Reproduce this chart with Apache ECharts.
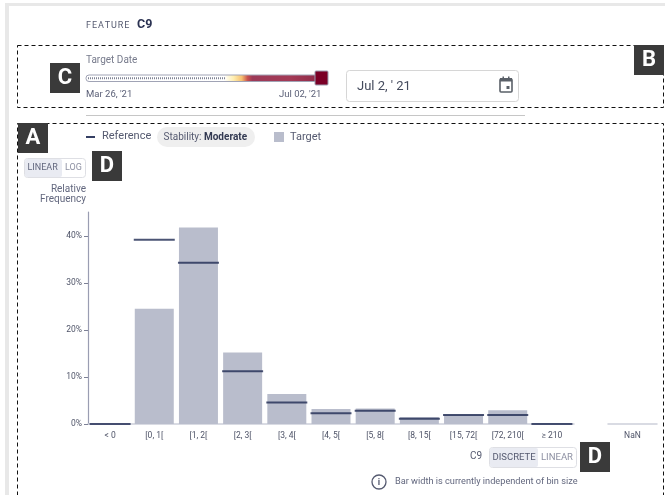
<!DOCTYPE html>
<html><head><meta charset="utf-8">
<style>html,body{margin:0;padding:0;background:#fff}#c{width:665px;height:495px}</style>
<script src="https://cdn.jsdelivr.net/npm/echarts@6/dist/echarts.min.js"></script>
</head><body><div id="c"></div>
<script>
const categories = ['< 0','[0, 1[','[1, 2[','[2, 3[','[3, 4[','[4, 5[','[5, 8[','[8, 15[','[15, 72[','[72, 210[','≥ 210'];
const targetValues = [0,24.5,41.8,15.2,6.4,3.2,3.3,1.5,2.0,2.9,0.1];
const referenceValues = [0,39.2,34.3,11.2,4.6,2.3,2.8,1.1,1.9,1.9,0];
const nanCategories = ['NaN'];
const nanTarget = [0];
const yTicks = [0,10,20,30,40];

const FONT='Roboto';
const TXT='#4f5468', DARK='#2b3252', BAR='#b9bdcc', REF='#1f2a52';
const chart = echarts.init(document.getElementById('c'),null,{renderer:'canvas'});
const t=(x,y,text,size,fill,extra)=>({type:'text',x,y,silent:true,z:20,style:Object.assign({text,font:`${size}px ${FONT}`,fill,verticalAlign:'middle'},extra||{})});
const r=(x,y,w,h,fill,extra)=>({type:'rect',silent:true,z:(extra&&extra.z)||10,shape:{x,y,width:w,height:h,r:(extra&&extra.r)||0},style:{fill,stroke:(extra&&extra.stroke)||null,lineWidth:(extra&&extra.lw)||1,lineDash:(extra&&extra.dash)||null}});
const badge=(x,y,l)=>[r(x,y,30,30,'#3a3a3a',{z:30}),Object.assign(t(x+15,y+15.5,l,22,'#fff',{align:'center',font:`700 22px Roboto`}),{z:31})];
const seg=(x1,y1,x2,y2,c,w,dash)=>({type:'line',silent:true,z:12,shape:{x1,y1,x2,y2},style:{stroke:c,lineWidth:w,lineDash:dash||null}});

const graphic=[
 r(5,3,660,3,'#e8e8e8'), r(5,3,4,492,'#e8e8e8'),
 t(86,25.5,'F\u200aE\u200aA\u200aT\u200aU\u200aR\u200aE',9,'#555a70'),
 t(137,24.5,'C9',12.5,DARK,{font:`700 12.5px ${FONT}`}),
 r(17.5,45.5,646,62,'none',{stroke:'#111',dash:[4,3]}),
 r(17.5,123.5,646,380,'none',{stroke:'#111',dash:[4,3]}),
 t(86,60,'Target Date',10,'#777b8c'),
 {type:'rect',silent:true,z:10,shape:{x:86,y:75,width:234,height:6.5,r:3},style:{stroke:'#a0a3b5',lineWidth:1,fill:new echarts.graphic.LinearGradient(0,0,1,0,[
   {offset:0,color:'#ffffff'},{offset:.59,color:'#ffffff'},{offset:.63,color:'#ffeeb0'},{offset:.665,color:'#f6c070'},{offset:.69,color:'#c8504e'},{offset:.71,color:'#9c3a58'},{offset:.87,color:'#a43a56'},{offset:1,color:'#8f2a48'}])}},
 seg(88,78.2,226,78.2,'#7f8294',2,[1,1]),
 r(315,71,13,14,'#7a0026',{stroke:'#9b9eb0',r:1,z:13}),
 t(86,95,'Mar 26, \'21',9.5,'#5c6178'),
 t(279,95,'Jul 02, \'21',9.5,'#5c6178'),
 r(346.5,70.5,172,31,'#fff',{stroke:'#d6d6d6',r:3}),
 t(357,86.5,"Jul 2, ' 21",13,'#444a5c'),
 r(500,79,12,13,'none',{stroke:'#5a6068',lw:1.6,r:1,z:13}), r(500,78,12,3.5,'#5a6068',{z:13}),
 r(502.5,76.5,1.5,3,'#5a6068',{z:13}), r(508,76.5,1.5,3,'#5a6068',{z:13}), r(506.5,86,3,3,'#5a6068',{z:13}),
 seg(86,115.5,525,115.5,'#c6c6c6',1),
 seg(86,137,95,137,REF,1.8),
 t(102,136.5,'Reference',11,'#555a70'),
 r(157,127,98,20,'#efefef',{r:10}),
 t(163.5,137,'{a|Stability: }{b|Moderate}',10,'#555a70',{rich:{a:{font:`10px ${FONT}`,fill:'#555a70'},b:{font:`700 10px ${FONT}`,fill:'#333a52'}}}),
 r(274,132,10,10,BAR),
 t(290,137,'Target',11,'#555a70'),
 r(24.5,158.5,61,19,'#fff',{stroke:'#dedfe4',r:3}),
 r(25,159,37,18,'#e9ebf2',{r:2}),
 t(27.5,168,'LINEAR',9,'#62677e'), t(65,168,'LOG',9,'#8d90a2'),
 t(86,189.5,'Relative',10,'#62677e',{align:'right'}),
 t(86,199.5,'Frequency',10,'#62677e',{align:'right'}),
 t(470,456.5,'C9',10,'#555a70'),
 r(489.5,447.5,87,20,'#fff',{stroke:'#dedfe4',r:3}),
 r(490,448,48,19,'#e9ebf2',{r:2}),
 t(492.5,457.5,'DISCRETE',9.5,'#555a70'), t(541,457.5,'LINEAR',9.5,'#8d90a2'),
 {type:'circle',silent:true,z:12,shape:{cx:379,cy:482,r:7},style:{fill:'none',stroke:'#555a70',lineWidth:1.3}},
 t(379,482.5,'i',9,'#555a70',{align:'center',font:`700 9px ${FONT}`}),
 t(395,482,'Bar width is currently independent of bin size',9.2,'#62677e'),
 ...badge(50,63,'C'),...badge(634,45,'B'),...badge(18,123,'A'),...badge(92,151,'D'),...badge(580,442,'D')
];
const xa=(gi,data)=>({type:'category',gridIndex:gi,data,
 axisLine:{lineStyle:{color:'#cdd0da',width:1.5}},axisTick:{alignWithLabel:true,length:4,lineStyle:{color:'#7d8196'}},
 axisLabel:{fontFamily:FONT,fontSize:8.5,color:TXT,margin:7,interval:0}});
const ya=(gi,show)=>({type:'value',gridIndex:gi,min:0,max:45.1,show,splitLine:{show:false},
 axisLine:{show:true,lineStyle:{color:'#9a9db2',width:1.2}},
 axisTick:{show:true,length:4,customValues:yTicks,lineStyle:{color:'#7d8196'}},
 axisLabel:{fontFamily:FONT,fontSize:8.5,color:TXT,margin:6,customValues:yTicks,formatter:'{value}%'}});
const bar=(xi,data)=>({type:'bar',xAxisIndex:xi,yAxisIndex:xi,data,barWidth:39,silent:true,itemStyle:{color:BAR},z:2});
const ref=(xi,data)=>({type:'scatter',xAxisIndex:xi,yAxisIndex:xi,data,symbol:'rect',symbolSize:[41,2],silent:true,itemStyle:{color:REF},z:3});
chart.setOption({
 animation:false,backgroundColor:'#fff',
 textStyle:{fontFamily:FONT},
 grid:[{left:88,width:486,top:212,height:212},{left:608,width:49,top:212,height:212}],
 xAxis:[xa(0,categories),xa(1,nanCategories)],
 yAxis:[ya(0,true),ya(1,false)],
 series:[bar(0,targetValues),ref(0,referenceValues),bar(1,nanTarget)],
 graphic
});
</script></body></html>
